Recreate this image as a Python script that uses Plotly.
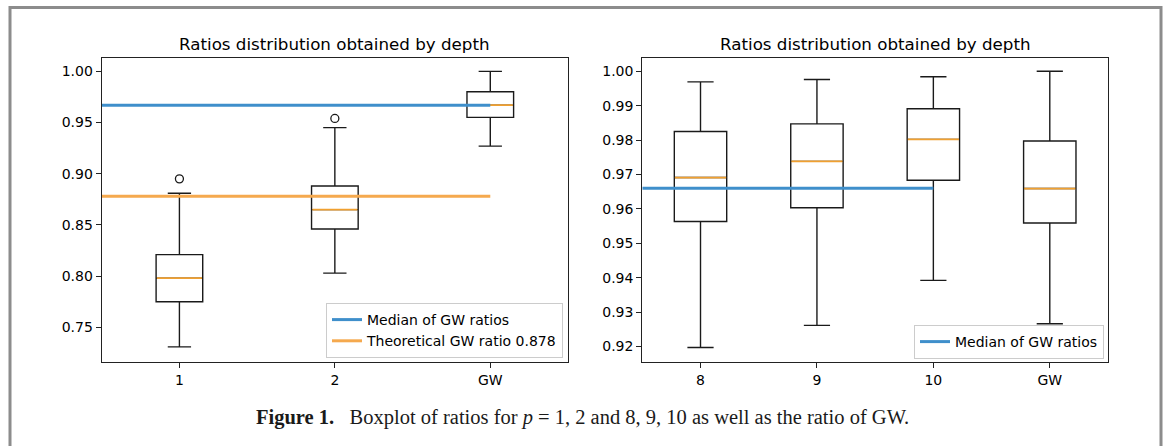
import plotly.graph_objects as go

# ---------------- data ----------------
left_cats = ["1", "2", "GW"]
left_q1 = [0.775, 0.846, 0.955]
left_med = [0.798, 0.865, 0.967]
left_q3 = [0.821, 0.888, 0.980]
left_lo = [0.731, 0.803, 0.927]
left_hi = [0.881, 0.945, 1.000]
left_outliers = [0.895, 0.954, None]
left_gw_median = 0.967
theoretical_gw = 0.878

right_cats = ["8", "9", "10", "GW"]
right_q1 = [0.9563, 0.9603, 0.9683, 0.9559]
right_med = [0.9691, 0.9738, 0.9802, 0.9659]
right_q3 = [0.9825, 0.9847, 0.9891, 0.9797]
right_lo = [0.9197, 0.9261, 0.9392, 0.9266]
right_hi = [0.9969, 0.9976, 0.9984, 1.0000]
right_gw_median = 0.966

left_yticks = [0.75, 0.80, 0.85, 0.90, 0.95, 1.00]
right_yticks = [0.92, 0.93, 0.94, 0.95, 0.96, 0.97, 0.98, 0.99, 1.00]

title_text = "Ratios distribution obtained by depth"
caption = ("<b>Figure 1.</b>\u2002 Boxplot of ratios for <i>p</i> = 1, 2 and "
           "8, 9, 10 as well as the ratio of GW.")

# ---------------- style ----------------
W, H = 1168, 446
BLUE = "#3f8fcb"
ORANGE = "#f5a94e"
MED_ORANGE = "#f0a030"
BOXLINE = "#1a1a1a"
FONT = "DejaVu Sans"
TXT = "#000000"

fig = go.Figure()


def add_panel(xa, ya, cats, q1, med, q3, lo, hi, bw, outliers=None):
    pos = list(range(1, len(cats) + 1))
    fig.add_trace(go.Box(
        x=pos, q1=q1, median=med, q3=q3, lowerfence=lo, upperfence=hi,
        width=bw, whiskerwidth=0.5, boxpoints=False,
        line=dict(color=BOXLINE, width=1.4), fillcolor="rgba(255,255,255,0)",
        showlegend=False, hoverinfo="skip", xaxis=xa, yaxis=ya))
    mx, my = [], []
    for p, m in zip(pos, med):
        mx += [p - bw / 2 + 0.005, p + bw / 2 - 0.005, None]
        my += [m, m, None]
    fig.add_trace(go.Scatter(x=mx, y=my, mode="lines",
                             line=dict(color=MED_ORANGE, width=1.8),
                             showlegend=False, hoverinfo="skip",
                             xaxis=xa, yaxis=ya))
    if outliers:
        ox = [p for p, o in zip(pos, outliers) if o is not None]
        oy = [o for o in outliers if o is not None]
        fig.add_trace(go.Scatter(x=ox, y=oy, mode="markers",
                                 marker=dict(symbol="circle-open", size=8,
                                             color=BOXLINE, line=dict(width=1.3)),
                                 showlegend=False, hoverinfo="skip",
                                 xaxis=xa, yaxis=ya))
    return pos


lpos = add_panel("x", "y", left_cats, left_q1, left_med, left_q3,
                 left_lo, left_hi, 0.3, left_outliers)
rpos = add_panel("x2", "y2", right_cats, right_q1, right_med, right_q3,
                 right_lo, right_hi, 0.45)

# reference lines (from axis left edge to the 3rd position)
fig.add_trace(go.Scatter(x=[0.5, lpos[2]], y=[left_gw_median] * 2, mode="lines",
                         line=dict(color=BLUE, width=3),
                         name="Median of GW ratios", legend="legend",
                         xaxis="x", yaxis="y", hoverinfo="skip"))
fig.add_trace(go.Scatter(x=[0.5, lpos[2]], y=[theoretical_gw] * 2, mode="lines",
                         line=dict(color=ORANGE, width=3),
                         name="Theoretical GW ratio 0.878", legend="legend",
                         xaxis="x", yaxis="y", hoverinfo="skip"))
fig.add_trace(go.Scatter(x=[0.5, rpos[2]], y=[right_gw_median] * 2, mode="lines",
                         line=dict(color=BLUE, width=3),
                         name="Median of GW ratios", legend="legend2",
                         xaxis="x2", yaxis="y2", hoverinfo="skip"))

# ---------------- layout ----------------
LX0, LX1 = 101.7 / W, 568 / W
RX0, RX1 = 642.3 / W, 1108 / W
Y0, Y1 = (H - 361.7) / H, (H - 57.5) / H

axis_common = dict(showline=True, linecolor="#222", linewidth=1.2, mirror=True,
                   ticks="outside", ticklen=5, tickcolor="#222", tickwidth=1.2,
                   showgrid=False, zeroline=False,
                   tickfont=dict(family=FONT, size=14, color=TXT))

fig.update_layout(
    width=W, height=H, margin=dict(l=0, r=0, t=0, b=0),
    paper_bgcolor="white", plot_bgcolor="white",
    font=dict(family=FONT, color=TXT),
    xaxis=dict(domain=[LX0, LX1], anchor="y", range=[0.5, 3.5],
               tickmode="array", tickvals=lpos, ticktext=left_cats, **axis_common),
    yaxis=dict(domain=[Y0, Y1], anchor="x", range=[0.7165, 1.0135],
               tickmode="array", tickvals=left_yticks,
               ticktext=[f"{v:.2f}" for v in left_yticks], **axis_common),
    xaxis2=dict(domain=[RX0, RX1], anchor="y2", range=[0.5, 4.5],
                tickmode="array", tickvals=rpos, ticktext=right_cats, **axis_common),
    yaxis2=dict(domain=[Y0, Y1], anchor="x2", range=[0.91555, 1.004],
                tickmode="array", tickvals=right_yticks,
                ticktext=[f"{v:.2f}" for v in right_yticks], **axis_common),
    legend=dict(x=563 / W, y=(H - 358) / H, xanchor="right", yanchor="bottom",
                bgcolor="white", bordercolor="#cccccc", borderwidth=1,
                font=dict(family=FONT, size=14, color=TXT),
                tracegroupgap=0, itemwidth=30),
    legend2=dict(x=1104 / W, y=(H - 359) / H, xanchor="right", yanchor="bottom",
                 bgcolor="white", bordercolor="#cccccc", borderwidth=1,
                 font=dict(family=FONT, size=14, color=TXT), itemwidth=30),
    showlegend=True,
)

for cx in [(LX0 + LX1) / 2, (RX0 + RX1) / 2]:
    fig.add_annotation(text=title_text, x=cx, y=(H - 44) / H, xref="paper",
                       yref="paper", xanchor="center", yanchor="middle",
                       showarrow=False, font=dict(family=FONT, size=16.7, color=TXT))

fig.add_annotation(text=caption, x=582 / W, y=(H - 417) / H, xref="paper",
                   yref="paper", xanchor="center", yanchor="middle", showarrow=False,
                   font=dict(family="Liberation Serif", size=20.5, color="#1a1a1a"))

# outer frame
fig.add_shape(type="rect", xref="paper", yref="paper",
              x0=10 / W, x1=1161 / W, y0=-0.05, y1=(H - 7.5) / H,
              line=dict(color="#8c8c8c", width=3), fillcolor="rgba(0,0,0,0)",
              layer="below")

fig.write_html("out.html")
